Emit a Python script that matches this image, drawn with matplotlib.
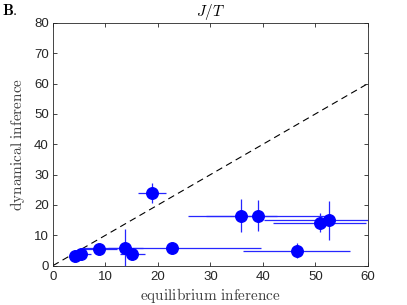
import matplotlib
matplotlib.use("Agg")
import matplotlib.pyplot as plt
import numpy as np

plt.rcParams['mathtext.fontset'] = 'cm'

# data
eq_x = [4.15, 5.4, 8.8, 13.8, 15.1, 18.9, 22.6, 35.85, 39.0, 46.45, 50.8, 52.5]
dyn_y = [3.2, 3.8, 5.5, 5.7, 3.9, 23.9, 5.9, 16.5, 16.5, 4.95, 14.2, 14.9]
x_err_lo = [0.6, 1.9, 3.4, 3.4, 2.4, 2.7, 17.1, 6.75, 13.3, 10.2, 8.9, 12.2]
x_err_hi = [0.6, 1.9, 3.4, 3.4, 2.4, 2.7, 17.1, 6.75, 13.3, 10.2, 8.9, 12.2]
y_err = [0.6, 0.8, 1.7, 6.4, 1.0, 3.3, 0.8, 5.4, 5.1, 2.5, 3.0, 6.4]
diag = [0, 60]

fig = plt.figure(figsize=(4.07, 3.05), dpi=100)
ax = fig.add_axes([0.130, 0.129, 0.774, 0.796])

ax.plot(diag, diag, linestyle=(0, (6, 4)), color='black', linewidth=0.8, zorder=1)
ax.errorbar(eq_x, dyn_y, xerr=[x_err_lo, x_err_hi], yerr=y_err, fmt='none',
            ecolor=(0.15, 0.15, 1.0), elinewidth=0.9, capsize=0, zorder=2)
ax.plot(eq_x, dyn_y, 'o', color=(0, 0, 1), markersize=8.3, linestyle='none', zorder=3)

ax.set_xlim(0, 60)
ax.set_ylim(0, 80)
ax.set_xticks(range(0, 61, 10))
ax.set_yticks(range(0, 81, 10))
ax.tick_params(direction='in', top=True, right=True, length=3, width=0.6,
               labelsize=9.5, colors=(0.15, 0.15, 0.15))
ax.tick_params(axis='x', pad=4)
ax.tick_params(axis='y', pad=3)
for lab in ax.get_xticklabels() + ax.get_yticklabels():
    lab.set_family('Liberation Sans')
for s in ax.spines.values():
    s.set_linewidth(0.6)
    s.set_color((0.15, 0.15, 0.15))

ax.set_xlabel(r'$\mathrm{equilibrium\ inference}$', fontsize=11, color=(0.25, 0.25, 0.25), labelpad=2)
ax.set_ylabel(r'$\mathrm{dynamical\ inference}$', fontsize=11, color=(0.25, 0.25, 0.25), labelpad=5)
ax.set_title(r'$J/T$', fontsize=11, pad=5)
fig.text(0.005, 0.965, r'$\mathbf{B.}$', fontsize=11, ha='left', va='center')

fig.savefig('out.png', dpi=100)
